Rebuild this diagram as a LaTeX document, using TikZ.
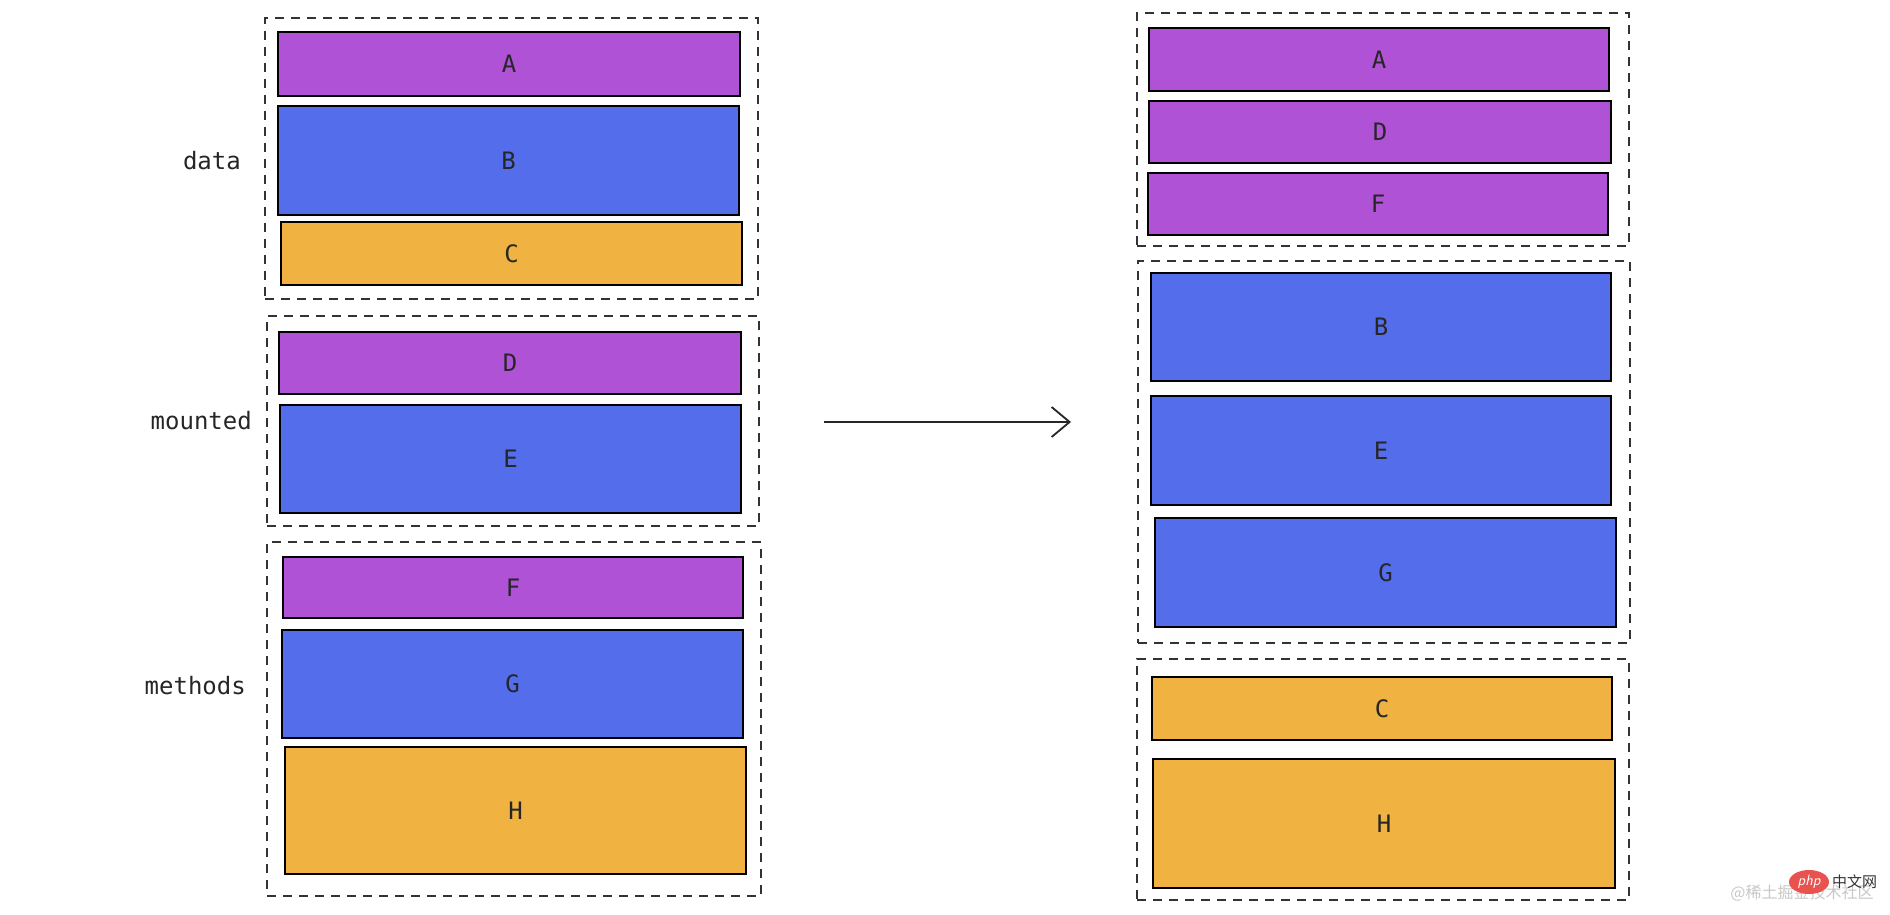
\documentclass[tikz,border=0pt]{standalone}
\usepackage{fontspec}
\setmonofont{DejaVu Sans Mono}
\newfontfamily\cjkfont{Noto Sans CJK SC}
\usetikzlibrary{arrows.meta,shapes.geometric}
\definecolor{cpurple}{HTML}{B052D6}
\definecolor{cblue}{HTML}{546EEB}
\definecolor{corange}{HTML}{F0B240}
\definecolor{wmgray}{HTML}{C8C8C8}
\definecolor{phpred}{HTML}{E8524F}
\tikzset{
  blk/.style={draw=black, line width=1.8pt, inner sep=0pt, font=\ttfamily\fontsize{24}{28}\selectfont, text=black!85},
  pur/.style={blk, fill=cpurple},
  blu/.style={blk, fill=cblue},
  ora/.style={blk, fill=corange},
  grp/.style={draw=black!80, line width=2pt, dash pattern=on 9pt off 7pt, inner sep=0pt},
  lbl/.style={anchor=east, inner sep=0pt, font=\ttfamily\fontsize{24}{28}\selectfont, text=black!85},
  arr/.style={line width=1.8pt, black!85, -{Straight Barb[length=18pt, width=30pt, line width=1.8pt]}}
}
\newcommand{\blkbox}[7]{\node[#1, minimum width=#4pt, minimum height=#5pt] (#2) at (#6,#7) {#3};}
\begin{document}
\begin{tikzpicture}[x=1pt, y=-1pt]
\useasboundingbox[fill=white] (0,0) rectangle (1890,915);
% left groups
\node[grp, minimum width=493pt, minimum height=281pt] (g1) at (511.5,158.5) {};
\node[grp, minimum width=492pt, minimum height=210pt] (g2) at (513,421) {};
\node[grp, minimum width=494pt, minimum height=354pt] (g3) at (514,719) {};
% left blocks
\blkbox{pur}{lA}{A}{462}{64}{509}{64}
\blkbox{blu}{lB}{B}{461}{109}{508.5}{160.5}
\blkbox{ora}{lC}{C}{461}{63}{511.5}{253.5}
\blkbox{pur}{lD}{D}{462}{62}{510}{363}
\blkbox{blu}{lE}{E}{461}{108}{510.5}{459}
\blkbox{pur}{lF}{F}{460}{61}{513}{587.5}
\blkbox{blu}{lG}{G}{461}{108}{512.5}{684}
\blkbox{ora}{lH}{H}{461}{127}{515.5}{810.5}
% labels
\node[lbl] (ldata) at (241,161) {data};
\node[lbl] (lmounted) at (252,421) {mounted};
\node[lbl] (lmethods) at (246,686) {methods};
% right groups
\node[grp, minimum width=492pt, minimum height=233pt] (h1) at (1383,129.5) {};
\node[grp, minimum width=492pt, minimum height=382pt] (h2) at (1384,452) {};
\node[grp, minimum width=492pt, minimum height=241pt] (h3) at (1383,779.5) {};
% right blocks
\blkbox{pur}{rA}{A}{460}{63}{1379}{59.5}
\blkbox{pur}{rD}{D}{462}{62}{1380}{132}
\blkbox{pur}{rF}{F}{460}{62}{1378}{204}
\blkbox{blu}{rB}{B}{460}{108}{1381}{327}
\blkbox{blu}{rE}{E}{460}{109}{1381}{450.5}
\blkbox{blu}{rG}{G}{461}{109}{1385.5}{572.5}
\blkbox{ora}{rC}{C}{460}{63}{1382}{708.5}
\blkbox{ora}{rH}{H}{462}{129}{1384}{823.5}
% arrow
\coordinate (as) at (824,422);
\coordinate (at) at (1071,422);
\draw[arr] (as) -- (at);
% watermark
\node[inner sep=0pt, text=wmgray, font=\cjkfont\fontsize{16}{18}\selectfont] (wm) at (1802,893) {@稀土掘金技术社区};
\node[ellipse, fill=phpred, minimum width=40pt, minimum height=24pt, inner sep=0pt, text=white, font=\sffamily\itshape\fontsize{15}{16}\selectfont] (php) at (1809,882) {php};
\node[inner sep=0pt, text=black!80, font=\cjkfont\fontsize{15}{16}\selectfont, anchor=west] (zw) at (1832,882) {中文网};
\end{tikzpicture}
\end{document}
